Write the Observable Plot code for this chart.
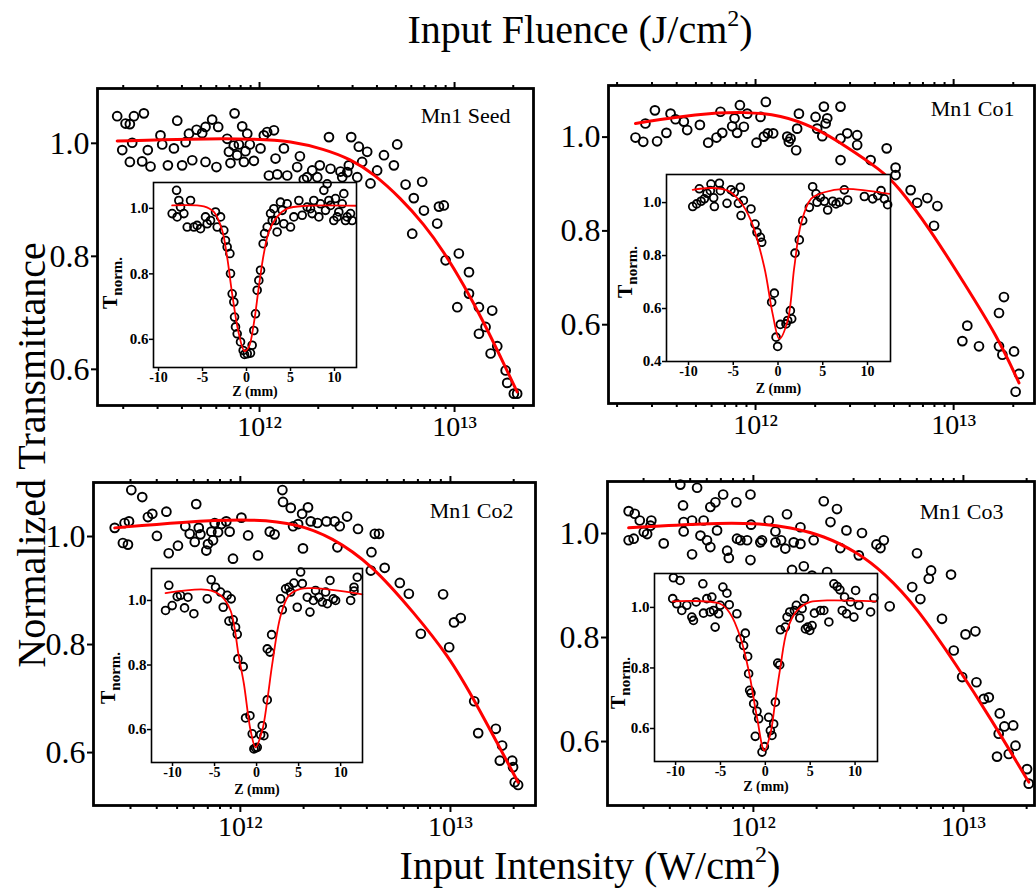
<!DOCTYPE html>
<html><head><meta charset="utf-8">
<script src="https://cdn.jsdelivr.net/npm/d3@7"></script>
<script src="https://cdn.jsdelivr.net/npm/@observablehq/plot@0.6"></script>
<style>
body{margin:0;background:#fff;}
#chart{position:relative;width:1036px;height:888px;overflow:hidden;background:#fff;font-family:"Liberation Serif",serif;color:#000;}
#chart svg{position:absolute;font-family:"Liberation Serif",serif;}
#chart svg text{font-family:"Liberation Serif",serif;}
.ttl{position:absolute;white-space:nowrap;font-size:40px;line-height:1;transform:translate(-50%,-50%);}
.ttl sup{font-size:0.6em;vertical-align:0.7em;line-height:0;}
.ytl{position:absolute;white-space:nowrap;font-size:40px;line-height:1;transform:translate(-50%,-50%) rotate(-90deg);}
.tn{position:absolute;white-space:nowrap;font-weight:bold;font-size:20px;line-height:1;transform:translate(-50%,-50%) rotate(-90deg);}
.tn sub{font-size:15px;vertical-align:-0.35em;line-height:0;}
</style></head><body><div id="chart"></div>
<script>
// ---------- DATA: main intensity scans [log10 I (W/cm^2), normalized T] ----------
const seedMain = [[11.27,1.048],[11.313,1.035],[11.356,1.048],[11.407,1.053],[11.335,1.034],[11.296,0.988],[11.347,1.001],[11.335,0.967],[11.398,0.968],[11.427,0.988],[11.441,0.959],[11.492,1.014],[11.501,0.998],[11.53,0.961],[11.561,0.991],[11.578,1.04],[11.603,0.961],[11.621,1.002],[11.638,1.017],[11.655,0.97],[11.677,1.024],[11.706,1.018],[11.723,1.029],[11.723,0.967],[11.757,1.042],[11.779,0.958],[11.788,1.029],[11.834,1.008],[11.851,0.965],[11.843,0.985],[11.868,0.996],[11.872,1.053],[11.885,0.979],[11.894,0.998],[11.911,1.03],[11.92,0.967],[11.928,0.986],[11.937,1.017],[11.95,0.998],[11.971,0.969],[12.005,0.991],[12.022,1.014],[12.039,1.02],[12.074,1.023],[12.048,0.943],[12.082,0.973],[12.091,0.945],[12.125,0.991],[12.142,0.943],[12.193,0.958],[12.207,0.977],[12.227,0.936],[12.244,0.94],[12.27,0.952],[12.296,0.94],[12.309,0.961],[12.356,1.011],[12.364,0.955],[12.415,0.95],[12.424,0.94],[12.45,0.949],[12.458,0.961],[12.47,1.011],[12.501,0.94],[12.509,0.994],[12.526,0.967],[12.552,0.985],[12.569,0.929],[12.603,0.952],[12.638,0.979],[12.689,0.961],[12.706,0.998],[12.749,0.927],[12.783,0.84],[12.791,0.903],[12.834,0.932],[12.843,0.881],[12.911,0.858],[12.92,0.888],[12.945,0.89],[12.954,0.793],[13.014,0.71],[13.022,0.805],[13.074,0.772],[13.074,0.734],[13.125,0.71],[13.125,0.663],[13.159,0.675],[13.185,0.628],[13.193,0.704],[13.219,0.641],[13.262,0.598],[13.27,0.576],[13.304,0.557],[13.321,0.557]];
const seedFit = [[11.27,1.004],[11.646,1.008],[11.988,1.008],[12.159,1.004],[12.33,0.99],[12.467,0.972],[12.586,0.946],[12.723,0.903],[12.843,0.857],[12.945,0.808],[13.048,0.749],[13.15,0.683],[13.236,0.622],[13.321,0.56]];

const co1Main = [[11.394,0.999],[11.433,0.99],[11.444,1.029],[11.492,1.057],[11.503,0.991],[11.55,1.009],[11.571,1.05],[11.596,1.038],[11.638,1.033],[11.655,1.015],[11.719,1.026],[11.761,0.988],[11.803,0.999],[11.823,1.054],[11.832,1.009],[11.882,1.023],[11.894,1.04],[11.907,1.009],[11.921,1.068],[11.941,1.022],[11.958,1.05],[12.005,0.988],[12.025,1.043],[12.042,1.001],[12.052,1.075],[12.062,1.008],[12.089,1.008],[12.16,1.001],[12.168,0.99],[12.177,0.997],[12.21,1.018],[12.205,0.972],[12.219,1.05],[12.303,1.043],[12.311,1.018],[12.337,1.002],[12.345,1.065],[12.354,1.029],[12.362,1.04],[12.429,1.065],[12.429,0.997],[12.429,0.951],[12.463,1.008],[12.513,1.004],[12.513,0.983],[12.581,0.951],[12.662,0.976],[12.707,0.935],[12.707,0.919],[12.783,0.887],[12.816,0.86],[12.867,0.87],[12.918,0.853],[12.901,0.811],[13.044,0.565],[13.069,0.598],[13.128,0.554],[13.229,0.625],[13.254,0.659],[13.229,0.554],[13.246,0.536],[13.305,0.543],[13.33,0.495],[13.313,0.457]];
const co1Fit = [[11.394,1.029],[11.705,1.05],[11.958,1.054],[12.126,1.047],[12.295,1.022],[12.463,0.979],[12.631,0.93],[12.715,0.898],[12.884,0.802],[13.052,0.689],[13.221,0.575],[13.33,0.476]];

const co2Main = [[11.402,1.016],[11.441,0.988],[11.449,1.025],[11.47,1.028],[11.465,0.985],[11.481,1.086],[11.533,1.073],[11.56,1.036],[11.581,1.042],[11.603,1.001],[11.648,1.046],[11.659,0.969],[11.703,0.983],[11.738,1.019],[11.759,1.005],[11.79,1.06],[11.783,0.99],[11.802,1.016],[11.81,1.004],[11.838,0.974],[11.846,0.986],[11.862,1.009],[11.87,0.993],[11.878,1.025],[11.894,1.008],[11.91,1.023],[11.933,1.028],[11.949,1.009],[11.965,0.959],[12.005,1.035],[12.037,1.002],[12.084,0.965],[12.14,1.009],[12.163,1.004],[12.2,1.086],[12.203,1.064],[12.24,1.053],[12.251,1.019],[12.275,1.023],[12.294,1.042],[12.298,0.978],[12.322,1.054],[12.335,1.028],[12.367,1.025],[12.41,1.028],[12.449,1.028],[12.462,0.98],[12.473,1.019],[12.508,1.037],[12.56,1.014],[12.624,0.971],[12.64,1.005],[12.66,1.005],[12.621,0.937],[12.687,0.942],[12.759,0.914],[12.802,0.894],[12.859,0.82],[12.965,0.893],[12.994,0.795],[13.017,0.841],[13.049,0.849],[13.113,0.695],[13.132,0.636],[13.216,0.644],[13.246,0.613],[13.235,0.585],[13.294,0.585],[13.298,0.573],[13.306,0.545],[13.322,0.54]];
const co2Fit = [[11.402,1.016],[11.719,1.027],[12.068,1.033],[12.275,1.023],[12.433,0.999],[12.624,0.949],[12.83,0.857],[12.989,0.78],[13.116,0.696],[13.322,0.545]];

const co3Main = [[11.406,1.043],[11.406,0.987],[11.435,1.038],[11.43,0.99],[11.459,1.025],[11.478,1.003],[11.494,0.999],[11.514,1.025],[11.51,1.015],[11.573,0.981],[11.652,1.094],[11.665,1.054],[11.668,1.022],[11.668,1.004],[11.708,1.025],[11.708,0.96],[11.732,1.088],[11.748,0.996],[11.763,1.025],[11.779,0.987],[11.795,0.974],[11.795,1.051],[11.819,1.06],[11.827,1.006],[11.856,1.075],[11.875,0.967],[11.883,0.953],[11.919,1.06],[11.922,0.99],[11.938,0.987],[11.97,0.987],[11.986,1.075],[11.986,0.949],[11.989,1.017],[12.033,0.983],[12.041,0.987],[12.073,1.025],[12.105,1.004],[12.105,0.983],[12.132,0.987],[12.152,0.971],[12.16,1.037],[12.192,0.983],[12.224,0.98],[12.224,1.012],[12.184,0.93],[12.24,0.937],[12.279,0.919],[12.287,0.987],[12.335,1.062],[12.351,0.926],[12.367,1.022],[12.398,1.047],[12.414,0.972],[12.443,1.006],[12.502,0.958],[12.517,1.001],[12.586,0.979],[12.605,0.972],[12.621,0.987],[12.649,0.86],[12.756,0.897],[12.795,0.874],[12.779,0.962],[12.835,0.913],[12.846,0.929],[12.898,0.836],[12.941,0.921],[12.954,0.775],[12.994,0.724],[13.01,0.806],[13.057,0.812],[13.062,0.714],[13.097,0.682],[13.121,0.685],[13.173,0.654],[13.168,0.615],[13.195,0.629],[13.237,0.631],[13.248,0.592],[13.216,0.576],[13.16,0.571],[13.303,0.547],[13.311,0.519]];
const co3Fit = [[11.406,1.011],[11.779,1.02],[12.017,1.02],[12.176,1.012],[12.335,0.996],[12.494,0.964],[12.621,0.925],[12.779,0.858],[12.97,0.745],[13.129,0.645],[13.311,0.522]];

// ---------- DATA: inset Z-scans [Z (mm), T norm.] ----------
const seedZ = [[-7.95,1.055],[-7.69,1.024],[-7.5,1.004],[-8.45,0.984],[-7.88,0.974],[-7.12,0.984],[-6.36,1.024],[-6.74,0.943],[-5.98,0.943],[-5.61,0.948],[-5.23,0.938],[-4.66,0.974],[-4.47,0.953],[-4.09,0.963],[-3.52,0.989],[-3.33,0.943],[-2.95,0.974],[-2.58,0.933],[-2.39,0.902],[-2.2,0.882],[-1.89,0.862],[-1.82,0.801],[-1.63,0.739],[-1.44,0.714],[-1.36,0.668],[-1.25,0.638],[-1.06,0.617],[-0.68,0.592],[-0.38,0.566],[-0.23,0.554],[0.08,0.556],[0.45,0.558],[0.64,0.582],[0.83,0.627],[1.02,0.678],[1.21,0.75],[1.4,0.78],[1.59,0.811],[1.89,0.892],[2.05,0.923],[2.35,0.943],[2.73,0.984],[2.92,0.963],[3.11,0.999],[3.3,0.963],[3.48,0.928],[3.86,1.019],[4.05,0.994],[4.24,0.953],[4.62,1.014],[5.0,0.943],[5.38,0.974],[5.95,1.024],[6.33,0.979],[6.89,1.004],[7.27,0.999],[7.46,0.984],[7.65,1.024],[8.22,0.974],[8.41,1.014],[8.79,1.055],[8.98,0.994],[9.17,1.075],[9.36,1.024],[9.55,1.009],[9.92,0.963],[10.11,1.03],[10.3,0.974],[10.49,0.989],[10.87,1.014],[11.06,1.045],[11.25,0.963],[11.44,0.974],[11.82,0.984],[12.0,0.963]];
const seedZFit = [[-8.45,1.009],[-4.85,1.006],[-3.71,0.989],[-2.77,0.933],[-2.2,0.851],[-1.63,0.739],[-0.87,0.617],[-0.23,0.564],[0.27,0.577],[0.83,0.648],[1.4,0.76],[1.97,0.862],[2.54,0.928],[3.48,0.974],[4.62,0.999],[6.89,1.008],[12.39,1.008]];

const co1Z = [[-9.53,0.985],[-9.09,0.995],[-8.79,1.052],[-8.6,1.005],[-8.23,1.014],[-7.93,1.035],[-7.56,1.045],[-7.49,1.07],[-7.19,1.018],[-7.11,0.985],[-6.55,1.073],[-6.44,1.045],[-5.7,0.997],[-5.25,1.048],[-4.88,1.039],[-4.43,0.997],[-4.21,1.058],[-4.13,0.951],[-3.87,1.008],[-3.02,0.976],[-2.57,0.919],[-2.35,0.888],[-1.97,0.869],[-1.82,0.85],[-0.71,0.624],[-0.41,0.658],[-0.22,0.492],[-0.04,0.457],[0.26,0.54],[0.89,0.542],[1.08,0.555],[1.38,0.592],[1.53,0.561],[1.9,0.809],[2.38,0.859],[2.76,0.932],[3.5,0.982],[3.87,1.06],[4.25,1.033],[4.36,1.001],[4.73,1.02],[5.18,1.005],[5.55,0.972],[6.11,1.005],[6.48,0.995],[6.85,1.001],[7.41,1.048],[7.78,1.01],[9.65,1.023],[10.58,1.014],[11.14,1.026],[11.51,1.045],[11.88,1.014],[12.25,0.992]];
const co1ZFit = [[-9.53,1.048],[-7.49,1.055],[-5.62,1.045],[-4.32,1.008],[-3.02,0.932],[-1.53,0.756],[-0.6,0.58],[0.15,0.486],[1.08,0.555],[1.82,0.756],[2.57,0.92],[3.69,1.014],[5.18,1.039],[7.41,1.052],[12.44,1.033]];

const co2Z = [[-10.83,0.969],[-10.44,1.047],[-10.04,0.984],[-9.44,1.012],[-9.05,1.016],[-8.57,0.977],[-8.17,1.01],[-7.46,0.959],[-5.87,1.005],[-5.4,1.064],[-4.88,1.041],[-4.29,1.026],[-3.97,0.979],[-3.49,1.016],[-3.02,1.005],[-3.29,0.936],[-2.78,0.94],[-2.5,0.917],[-2.3,0.895],[-2.22,0.819],[-1.59,0.795],[-1.31,0.636],[-0.79,0.643],[-0.52,0.587],[-0.32,0.54],[-0.12,0.543],[0.08,0.545],[0.48,0.584],[0.67,0.612],[0.87,0.581],[1.27,0.692],[1.27,0.85],[1.59,0.84],[1.79,0.894],[2.86,1.005],[3.06,0.971],[3.45,1.036],[3.85,1.041],[4.05,1.026],[4.44,1.054],[4.84,0.979],[5.24,1.088],[5.44,1.052],[6.03,1.01],[6.35,0.964],[6.75,1.0],[7.02,1.031],[7.42,1.01],[7.82,0.995],[8.21,1.026],[8.41,0.99],[8.73,1.062],[9.13,1.005],[9.4,1.0],[11.19,1.0],[11.59,1.041],[11.98,1.072],[11.59,1.029]];
const co2ZFit = [[-10.83,1.023],[-5.87,1.033],[-4.29,1.016],[-3.1,0.969],[-2.1,0.824],[-1.51,0.742],[-0.71,0.597],[-0.12,0.545],[0.67,0.597],[1.27,0.69],[1.87,0.804],[2.86,0.953],[3.85,1.016],[5.24,1.036],[6.83,1.038],[12.58,1.019]];

const co3Z = [[-10.32,1.029],[-10.24,1.098],[-9.5,1.089],[-9.87,1.012],[-9.31,0.99],[-8.75,1.007],[-8.19,0.968],[-8.01,0.957],[-7.71,1.018],[-6.96,1.078],[-6.89,0.981],[-6.52,1.029],[-6.15,0.985],[-5.96,1.034],[-5.59,0.935],[-5.77,0.99],[-5.21,0.979],[-5.03,1.007],[-4.73,1.067],[-4.28,1.047],[-4.02,1.009],[-3.17,0.979],[-2.79,0.896],[-2.23,0.915],[-2.42,0.874],[-1.97,0.838],[-1.86,0.781],[-1.75,0.726],[-1.6,0.717],[-1.3,0.682],[-0.93,0.657],[-0.74,0.632],[-1.12,0.574],[-0.37,0.522],[-0.11,0.54],[0.37,0.637],[0.56,0.593],[0.74,0.577],[0.93,0.615],[1.12,0.687],[1.38,0.816],[1.6,0.81],[1.68,0.926],[2.23,0.935],[2.42,0.968],[2.72,0.985],[3.24,0.99],[3.46,1.007],[3.84,0.965],[4.1,0.996],[4.36,1.029],[4.47,0.929],[4.73,0.935],[4.95,0.924],[5.21,0.94],[5.47,0.981],[6.15,0.99],[6.52,0.99],[7.08,0.952],[7.64,1.078],[8.01,1.069],[8.31,1.058],[8.57,0.99],[8.83,1.034],[9.05,0.979],[9.5,1.018],[9.87,0.968],[10.06,1.056],[10.43,1.007],[11.73,0.985],[12.1,1.031]];
const co3ZFit = [[-10.32,1.02],[-5.03,1.012],[-3.91,0.979],[-2.79,0.902],[-1.86,0.792],[-0.93,0.637],[-0.11,0.527],[0.56,0.582],[1.12,0.693],[1.68,0.803],[2.42,0.924],[3.54,0.99],[5.03,1.018],[6.89,1.023],[12.29,1.02]];

// ---------- TICKS / LABELS ----------
const panelNames = ["Mn1 Seed", "Mn1 Co1", "Mn1 Co2", "Mn1 Co3"];
const mainYTicks = [0.6, 0.8, 1.0];
const intensityMajor = [1e12, 1e13];
const intensityMajorLabels = ["10\u00B9\u00B2", "10\u00B9\u00B3"];
const intensityMinor = [2e11,3e11,4e11,5e11,6e11,7e11,8e11,9e11,2e12,3e12,4e12,5e12,6e12,7e12,8e12,9e12,2e13];
const fluenceTicks = [0.1, 1];
const fluenceLabels = ["0.1", "1"];
const fluencePerIntensity = 1e-13; // J/cm^2 per W/cm^2 (pulse duration)
const zTicks = [-10, -5, 0, 5, 10];

// ---------- LAYOUT (frame boxes in page px: left, top, right, bottom) ----------
const panels = [
  {name: panelNames[0], pts: seedMain, fit: seedFit, box: [97, 88, 533, 405], xDom: [1.476e11, 2.54e13], yDom: [0.536, 1.097], ldx: -23, ldy: 27, fluPad: 5,
   inset: {pts: seedZ, fit: seedZFit, box: [153, 182, 356, 367], xDom: [-10.57, 12.5], yDom: [0.514, 1.079], yTicks: [0.6, 0.8, 1.0], zdy: 28, tn: [110, 283]}},
  {name: panelNames[1], pts: co1Main, fit: co1Fit, box: [608, 85, 1034, 403], xDom: [1.81e11, 2.56e13], yDom: [0.432, 1.11], ldx: -20, ldy: 23, fluPad: 7,
   inset: {pts: co1Z, fit: co1ZFit, box: [666, 174, 890, 361], xDom: [-12.46, 12.57], yDom: [0.4, 1.106], yTicks: [0.4, 0.6, 0.8, 1.0], zdy: 31, tn: [625, 272]}},
  {name: panelNames[2], pts: co2Main, fit: co2Fit, box: [93, 482, 535, 805], xDom: [2.0e11, 2.54e13], yDom: [0.502, 1.10], ldx: -22, ldy: 28, fluPad: 5,
   inset: {pts: co2Z, fit: co2ZFit, box: [151, 568, 362, 762], xDom: [-12.5, 12.6], yDom: [0.498, 1.099], yTicks: [0.6, 0.8, 1.0], zdy: 31, tn: [108, 678]}},
  {name: panelNames[3], pts: co3Main, fit: co3Fit, box: [607, 481, 1034, 805], xDom: [2.02e11, 2.18e13], yDom: [0.477, 1.10], ldx: -31, ldy: 30, fluPad: 5,
   inset: {pts: co3Z, fit: co3ZFit, box: [654, 573, 877, 761], xDom: [-12.35, 12.5], yDom: [0.491, 1.112], yTicks: [0.6, 0.8, 1.0], zdy: 29, tn: [618, 683]}}
];

const chart = document.getElementById("chart");
const FONT = "'Liberation Serif', serif";

function place(svg, left, top) {
  svg.style.left = left + "px";
  svg.style.top = top + "px";
  chart.appendChild(svg);
}

function mainPlot(p) {
  const [l, t, r, b] = p.box;
  const mL = 75, mR = 8, mT = 50, mB = 50;
  const toRows = arr => arr.map(([lx, T]) => ({I: Math.pow(10, lx), T}));
  const minor = intensityMinor.filter(v => v > p.xDom[0] && v < p.xDom[1]);
  const svg = Plot.plot({
    width: r - l + mL + mR, height: b - t + mT + mB,
    marginLeft: mL, marginRight: mR, marginTop: mT, marginBottom: mB,
    x: {type: "log", domain: p.xDom},
    y: {domain: p.yDom},
    style: {background: "transparent", overflow: "visible", fontFamily: FONT, color: "black"},
    marks: [
      Plot.dot(toRows(p.pts), {x: "I", y: "T", r: 4.4, stroke: "black", strokeWidth: 1.9, fill: "none"}),
      Plot.line(toRows(p.fit), {x: "I", y: "T", stroke: "#ff0000", strokeWidth: 3, curve: "basis"}),
      Plot.frame({stroke: "black", strokeWidth: 2.8}),
      Plot.axisY({ticks: mainYTicks, anchor: "left", tickSize: 6, tickPadding: 2, strokeWidth: 2, tickFormat: d3.format(".1f"), fontSize: 32, fontFamily: FONT, label: null}),
      Plot.axisX({ticks: minor, anchor: "bottom", tickSize: 4, strokeWidth: 2, tickFormat: () => "", label: null}),
      Plot.axisX({ticks: intensityMajor, anchor: "bottom", tickSize: 7, tickPadding: 4, strokeWidth: 2, fontSize: 28, fontFamily: FONT,
        tickFormat: d => intensityMajorLabels[intensityMajor.indexOf(d)], label: null}),
      Plot.axisX({ticks: minor, anchor: "top", tickSize: 4, strokeWidth: 2, tickFormat: () => "", label: null}),
      Plot.axisX({ticks: fluenceTicks.map(f => f / fluencePerIntensity), anchor: "top", tickSize: 7, tickPadding: p.fluPad, strokeWidth: 2, fontSize: 26, fontFamily: FONT,
        tickFormat: (d, i) => fluenceLabels[i], label: null}),
      Plot.text([p.name], {frameAnchor: "top-right", dx: p.ldx, dy: p.ldy, textAnchor: "end", lineAnchor: "middle", fontSize: 22, fontFamily: FONT, fill: "black"})
    ]
  });
  place(svg, l - mL, t - mT);
}

function insetPlot(q) {
  const [l, t, r, b] = q.box;
  const mL = 42, mR = 3, mT = 3, mB = 44;
  const toRows = arr => arr.map(([z, T]) => ({z, T}));
  const svg = Plot.plot({
    width: r - l + mL + mR, height: b - t + mT + mB,
    marginLeft: mL, marginRight: mR, marginTop: mT, marginBottom: mB,
    x: {domain: q.xDom},
    y: {domain: q.yDom},
    style: {background: "transparent", overflow: "visible", fontFamily: FONT, color: "black"},
    marks: [
      Plot.frame({fill: "white", stroke: null}),
      Plot.dot(toRows(q.pts), {x: "z", y: "T", r: 3.9, stroke: "black", strokeWidth: 1.8, fill: "none"}),
      Plot.line(toRows(q.fit), {x: "z", y: "T", stroke: "#ff0000", strokeWidth: 1.8, curve: "catmull-rom"}),
      Plot.frame({stroke: "black", strokeWidth: 1.6}),
      Plot.axisY({ticks: q.yTicks, anchor: "left", tickSize: 4, tickPadding: 1, strokeWidth: 1.5, tickFormat: d3.format(".1f"), fontSize: 15, fontWeight: "bold", fontFamily: FONT, label: null}),
      Plot.axisX({ticks: zTicks, anchor: "bottom", tickSize: 4, tickPadding: 1, strokeWidth: 1.5, tickFormat: d => String(d), fontSize: 14, fontWeight: "bold", fontFamily: FONT, label: null}),
      Plot.text(["Z (mm)"], {frameAnchor: "bottom", dy: q.zdy, fontSize: 14, fontWeight: "bold", fontFamily: FONT, fill: "black"})
    ]
  });
  place(svg, l - mL, t - mT);
  const tn = document.createElement("div");
  tn.className = "tn";
  tn.innerHTML = "T<sub>norm.</sub>";
  tn.style.left = q.tn[0] + "px";
  tn.style.top = q.tn[1] + "px";
  chart.appendChild(tn);
}

panels.forEach(mainPlot);
panels.forEach(p => insetPlot(p.inset));

function addText(cls, html, x, y) {
  const d = document.createElement("div");
  d.className = cls;
  d.innerHTML = html;
  d.style.left = x + "px";
  d.style.top = y + "px";
  chart.appendChild(d);
}
addText("ttl", "Input Fluence (J/cm<sup>2</sup>)", 580, 30);
addText("ttl", "Input Intensity (W/cm<sup>2</sup>)", 590, 866);
addText("ytl", "Normalized Transmittance", 32, 455);
</script></body></html>
